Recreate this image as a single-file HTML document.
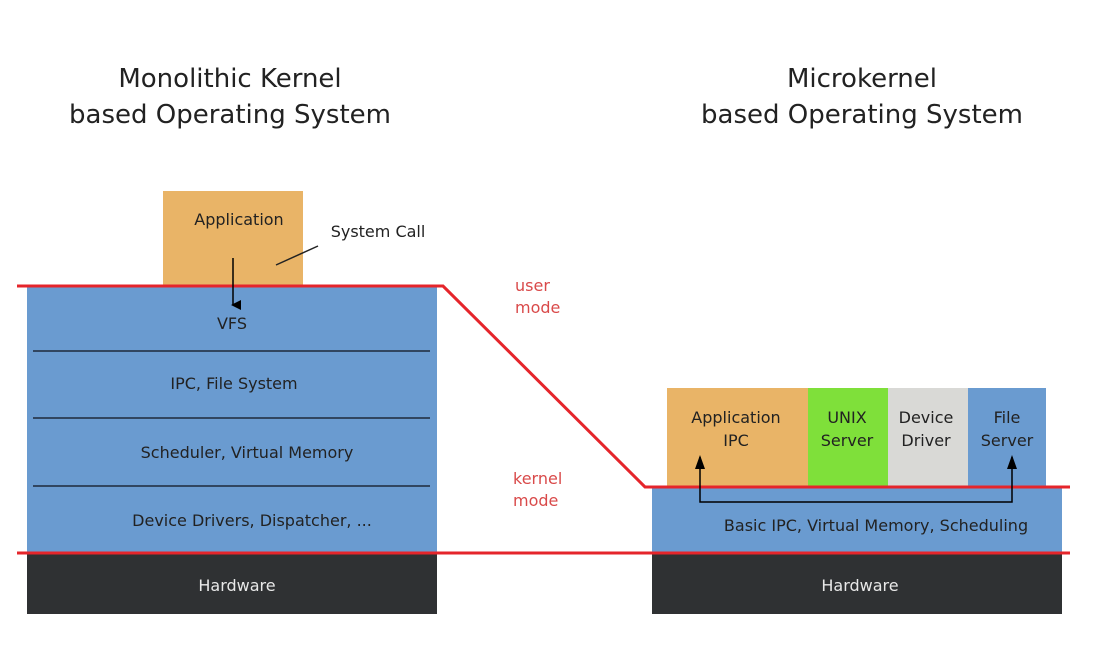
<!DOCTYPE html>
<html><head><style>
body{margin:0;width:1108px;height:650px;background:#fff;overflow:hidden}
svg text{font-family:"DejaVu Sans","Liberation Sans",sans-serif}
</style></head><body>
<svg width="1108" height="650" viewBox="0 0 1108 650">
<defs><marker id="ah" markerWidth="10" markerHeight="10" refX="5" refY="8" orient="auto" markerUnits="userSpaceOnUse"><path d="M0,0 L10,0 L5,10 z" fill="#000"/></marker>
<marker id="au" markerWidth="10" markerHeight="12" refX="5" refY="1" orient="0" markerUnits="userSpaceOnUse"><path d="M0,12 L10,12 L5,0 z" fill="#000"/></marker></defs>
<g font-size="26" fill="#222" text-anchor="middle">
<text x="230" y="87">Monolithic Kernel</text>
<text x="230" y="123">based Operating System</text>
<text x="862" y="87">Microkernel</text>
<text x="862" y="123">based Operating System</text>
</g>
<rect x="163" y="191" width="140" height="96" fill="#e9b467"/>
<rect x="27" y="286" width="410" height="267" fill="#6a9bd0"/>
<g stroke="#1e2a3a" stroke-width="1.5"><line x1="33" y1="351" x2="430" y2="351"/><line x1="33" y1="418" x2="430" y2="418"/><line x1="33" y1="486" x2="430" y2="486"/></g>
<rect x="27" y="553" width="410" height="61" fill="#2f3133"/>
<rect x="667" y="388" width="141" height="100" fill="#e9b467"/>
<rect x="808" y="388" width="80" height="100" fill="#7fe03a"/>
<rect x="888" y="388" width="80" height="100" fill="#d9d9d6"/>
<rect x="968" y="388" width="78" height="100" fill="#6a9bd0"/>
<rect x="652" y="487" width="410" height="66" fill="#6a9bd0"/>
<rect x="652" y="553" width="410" height="61" fill="#2f3133"/>
<polyline points="17,286 443,286 645,487 1070,487" fill="none" stroke="#e5252b" stroke-width="3"/>
<line x1="17" y1="553" x2="1070" y2="553" stroke="#e5252b" stroke-width="3"/>
<line x1="233" y1="258" x2="233" y2="305" stroke="#000" stroke-width="1.5" marker-end="url(#ah)"/>
<polyline points="700,457 700,502 1012,502 1012,457" fill="none" stroke="#000" stroke-width="1.5"/>
<path d="M695,469 L705,469 L700,455 z M1007,469 L1017,469 L1012,455 z" fill="#000"/>
<line x1="276" y1="265" x2="318" y2="246" stroke="#222" stroke-width="1.5"/>
<g font-size="16" fill="#222" text-anchor="middle">
<text x="239" y="225">Application</text>
<text x="378" y="237">System Call</text>
<text x="232" y="329">VFS</text>
<text x="234" y="389">IPC, File System</text>
<text x="247" y="458">Scheduler, Virtual Memory</text>
<text x="252" y="526">Device Drivers, Dispatcher, ...</text>
<text x="736" y="423">Application</text>
<text x="736" y="446">IPC</text>
<text x="847" y="423">UNIX</text>
<text x="847" y="446">Server</text>
<text x="926" y="423">Device</text>
<text x="926" y="446">Driver</text>
<text x="1007" y="423">File</text>
<text x="1007" y="446">Server</text>
<text x="876" y="531">Basic IPC, Virtual Memory, Scheduling</text>
<text x="237" y="591" fill="#e8e8e8">Hardware</text>
<text x="860" y="591" fill="#e8e8e8">Hardware</text>
</g>
<g font-size="16" fill="#d94a4a">
<text x="515" y="291">user</text><text x="515" y="313">mode</text>
<text x="513" y="484">kernel</text><text x="513" y="506">mode</text>
</g>
</svg>
</body></html>
